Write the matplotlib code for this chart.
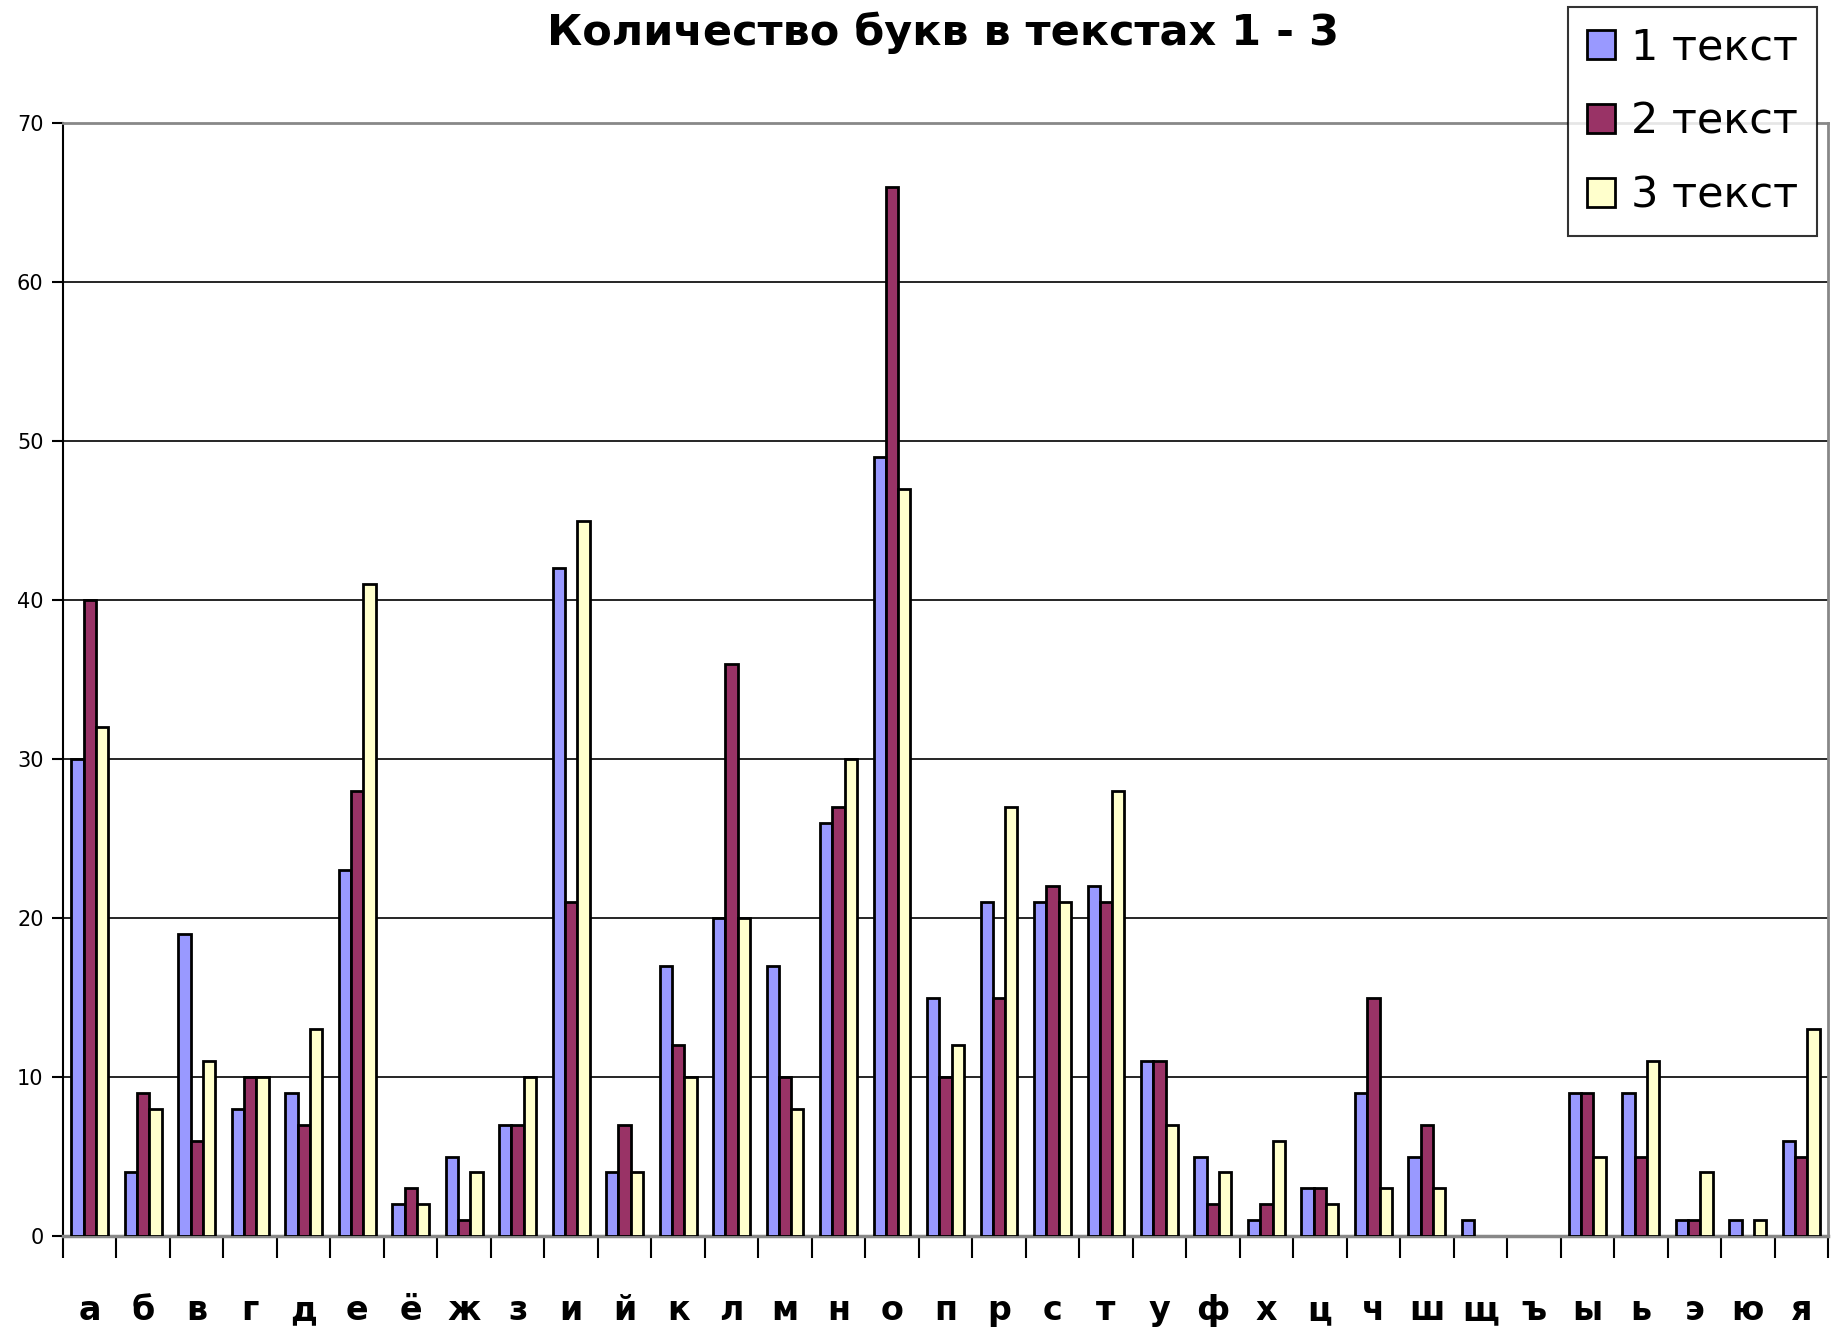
import numpy as np
import matplotlib.pyplot as plt
from matplotlib.patches import Patch

letters = ['а', 'б', 'в', 'г', 'д', 'е', 'ё', 'ж', 'з', 'и', 'й', 'к', 'л', 'м', 'н', 'о', 'п',
           'р', 'с', 'т', 'у', 'ф', 'х', 'ц', 'ч', 'ш', 'щ', 'ъ', 'ы', 'ь', 'э', 'ю', 'я']
text1 = [30, 4, 19, 8, 9, 23, 2, 5, 7, 42, 4, 17, 20, 17, 26, 49, 15,
         21, 21, 22, 11, 5, 1, 3, 9, 5, 1, 0, 9, 9, 1, 1, 6]
text2 = [40, 9, 6, 10, 7, 28, 3, 1, 7, 21, 7, 12, 36, 10, 27, 66, 10,
         15, 22, 21, 11, 2, 2, 3, 15, 7, 0, 0, 9, 5, 1, 0, 5]
text3 = [32, 8, 11, 10, 13, 41, 2, 4, 10, 45, 4, 10, 20, 8, 30, 47, 12,
         27, 21, 28, 7, 4, 6, 2, 3, 3, 0, 0, 5, 11, 4, 1, 13]
series_names = ['1 текст', '2 текст', '3 текст']
colors = ['#9999FF', '#993366', '#FFFFCC']

fig = plt.figure(figsize=(18.41, 13.33), dpi=100)
ax = fig.add_axes([63 / 1841, 1 - 1236 / 1333, (1828 - 63) / 1841, (1236 - 123) / 1333])

x = np.arange(len(letters))
w = 0.23
for i, (vals, c) in enumerate(zip([text1, text2, text3], colors)):
    bars = ax.bar(x + (i - 1) * w, vals, width=w, color=c, edgecolor='black', linewidth=2, zorder=3)
    # zero values are not drawn
    for b, v in zip(bars, vals):
        if v == 0:
            b.set_visible(False)

ax.set_xlim(-0.5, len(letters) - 0.5)
ax.set_ylim(0, 70)
ax.set_yticks(range(0, 71, 10))
ax.yaxis.grid(True, color='black', linewidth=1.2, zorder=0)

# x ticks between categories, labels centred
ax.set_xticks(np.arange(-0.5, len(letters), 1.0))
ax.set_xticklabels([])
ax.set_xticks(x, minor=True)
ax.set_xticklabels(letters, minor=True, fontsize=24, fontweight='bold')
ax.tick_params(axis='x', which='major', direction='out', length=16, width=1.5, color='black')
ax.tick_params(axis='x', which='minor', length=0, pad=42)
ax.tick_params(axis='y', direction='out', length=8, width=1.5, labelsize=15, pad=6)

for side in ['top', 'right']:
    ax.spines[side].set_color('#888888')
    ax.spines[side].set_linewidth(2)
ax.spines['bottom'].set_color('#888888')
ax.spines['bottom'].set_linewidth(2.5)
ax.spines['left'].set_color('black')
ax.spines['left'].set_linewidth(1.5)

fig.text(943 / 1841, 1 - 33 / 1333, 'Количество букв в текстах 1 - 3',
         ha='center', va='center', fontsize=31, fontweight='bold')

handles = [Patch(facecolor=c, edgecolor='black', linewidth=2) for c in colors]
leg = fig.legend(handles, series_names, loc='upper right',
                 bbox_to_anchor=(1817 / 1841, 1 - 7 / 1333), fontsize=31,
                 frameon=True, fancybox=False, edgecolor='black',
                 handlelength=0.65, handleheight=0.65, handletextpad=0.35,
                 labelspacing=0.75, borderpad=0.45, borderaxespad=0)
leg.get_frame().set_linewidth(1.5)

fig.savefig('out.png', dpi=100)
